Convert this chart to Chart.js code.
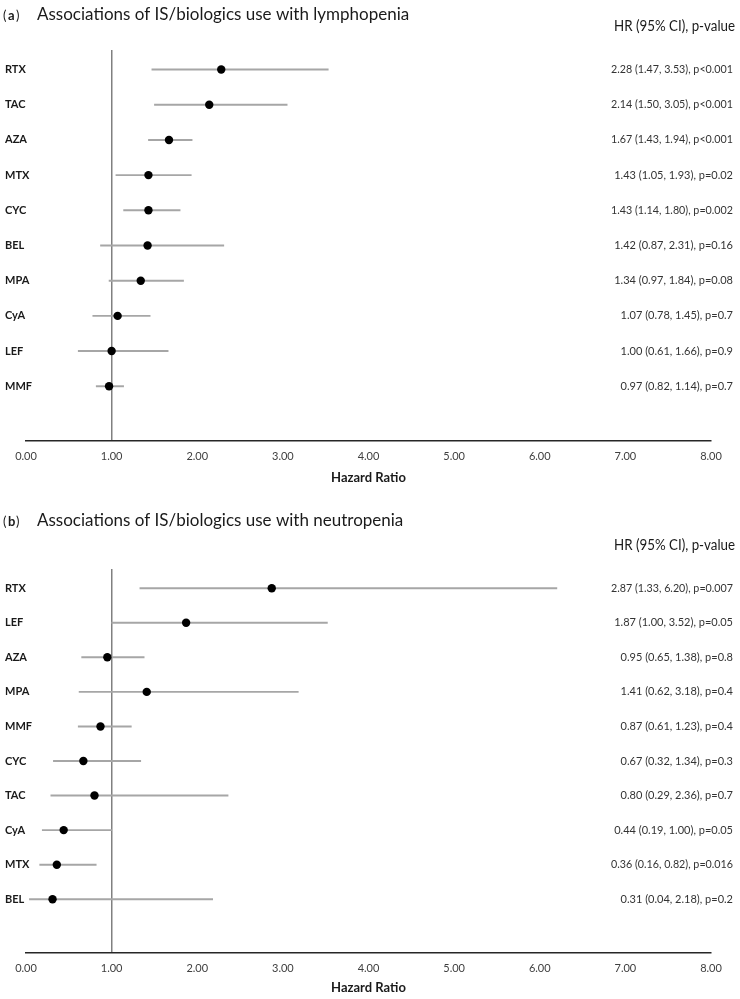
<!DOCTYPE html>
<html>
<head>
<meta charset="utf-8">
<script src="https://cdn.jsdelivr.net/npm/chart.js@4.4.0/dist/chart.umd.min.js"></script>
<style>
  body { margin: 0; background: #fff; }
  .panel { position: relative; width: 740px; }
</style>
</head>
<body>
<div class="panel"><canvas id="chartA" width="740" height="495"></canvas></div>
<div class="panel"><canvas id="chartB" width="740" height="504"></canvas></div>
<script>
// (a) lymphopenia
const lymphDrugs = ["RTX", "TAC", "AZA", "MTX", "CYC", "BEL", "MPA", "CyA", "LEF", "MMF"];
const lymphHR = [2.28, 2.14, 1.67, 1.43, 1.43, 1.42, 1.34, 1.07, 1.00, 0.97];
const lymphLow = [1.47, 1.50, 1.43, 1.05, 1.14, 0.87, 0.97, 0.78, 0.61, 0.82];
const lymphHigh = [3.53, 3.05, 1.94, 1.93, 1.80, 2.31, 1.84, 1.45, 1.66, 1.14];
const lymphP = ["p<0.001", "p<0.001", "p<0.001", "p=0.02", "p=0.002", "p=0.16", "p=0.08", "p=0.7", "p=0.9", "p=0.7"];

// (b) neutropenia
const neutroDrugs = ["RTX", "LEF", "AZA", "MPA", "MMF", "CYC", "TAC", "CyA", "MTX", "BEL"];
const neutroHR = [2.87, 1.87, 0.95, 1.41, 0.87, 0.67, 0.80, 0.44, 0.36, 0.31];
const neutroLow = [1.33, 1.00, 0.65, 0.62, 0.61, 0.32, 0.29, 0.19, 0.16, 0.04];
const neutroHigh = [6.20, 3.52, 1.38, 3.18, 1.23, 1.34, 2.36, 1.00, 0.82, 2.18];
const neutroP = ["p=0.007", "p=0.05", "p=0.8", "p=0.4", "p=0.4", "p=0.3", "p=0.7", "p=0.05", "p=0.016", "p=0.2"];

const xMin = 0;
const xMax = 8;

const FONT = "Lato, 'Open Sans', sans-serif";

function drawForest(canvasId, letter, title, drugs, hr, low, high, pvals, geo) {
  const textPlugin = {
    id: "forestText",
    afterDraw(chart) {
      const ctx = chart.ctx;
      const yScale = chart.scales.y;
      ctx.save();
      ctx.fillStyle = "#1a1a1a";
      ctx.textBaseline = "alphabetic";
      ctx.textAlign = "left";
      ctx.font = "13px " + FONT;
      ctx.fillText("(", 3, geo.titleY);
      ctx.font = "bold 13px " + FONT;
      ctx.fillText(letter, 8, geo.titleY);
      ctx.font = "13px " + FONT;
      ctx.fillText(")", 16, geo.titleY);
      ctx.font = "17px " + FONT;
      ctx.fillText(title, 37, geo.titleY);

      ctx.textAlign = "right";
      ctx.font = "14.5px " + FONT;
      ctx.fillText("HR (95% CI), p-value", 735, geo.headY, 121);

      ctx.fillStyle = "#333333";
      ctx.font = "11px " + FONT;
      ctx.textBaseline = "middle";
      for (let i = 0; i < drugs.length; i++) {
        let s = hr[i].toFixed(2) + " (" + low[i].toFixed(2) + ", " + high[i].toFixed(2) + "), " + pvals[i];
        ctx.fillText(s, 733, yScale.getPixelForValue(i), 122);
      }
      ctx.restore();
    },
  };

  let config = {
    data: {
      datasets: [
        {
          type: "scatter",
          data: drugs.map((d, i) => ({ x: hr[i], y: i })),
          backgroundColor: "#000000",
          borderWidth: 0,
          pointRadius: 4.2,
          clip: false,
          order: 0,
        },
        {
          type: "bar",
          indexAxis: "y",
          data: drugs.map((d, i) => ({ y: i, x: [low[i], high[i]] })),
          backgroundColor: "#a6a6a6",
          barThickness: 1.3,
          borderWidth: 0,
          clip: false,
          order: 1,
        },
      ],
    },
    options: {
      responsive: false,
      animation: false,
      layout: {
        padding: { top: geo.padTop, left: 5, right: 29, bottom: 0 },
      },
      plugins: {
        legend: { display: false },
        tooltip: { enabled: false },
      },
      scales: {
        x: {
          type: "linear",
          min: xMin,
          max: xMax,
          ticks: {
            stepSize: 1,
            padding: 9,
            color: "#404040",
            font: { family: FONT, size: 11 },
            callback: (v) => Number(v).toFixed(2),
          },
          grid: {
            drawTicks: false,
            // only the reference line at HR = 1
            color: (c) => (c.tick && c.tick.value === 1 ? "#808080" : "rgba(0,0,0,0)"),
            lineWidth: 1.5,
          },
          border: { display: true, color: "#262626", width: 1.5 },
          title: {
            display: true,
            text: "Hazard Ratio",
            color: "#1a1a1a",
            font: { family: FONT, size: 13, weight: "bold" },
            padding: { top: 0, bottom: geo.titleBottom },
          },
          afterFit: (s) => {
            s.height = geo.axisHeight;
          },
        },
        y: {
          type: "linear",
          reverse: true,
          min: 0,
          max: drugs.length,
          afterBuildTicks: (s) => {
            s.ticks = drugs.map((d, i) => ({ value: i }));
          },
          ticks: {
            mirror: true,
            padding: -21,
            color: "#1a1a1a",
            font: { family: FONT, size: 11, weight: "bold" },
            callback: (v) => drugs[v],
          },
          grid: { display: false },
          border: { display: false },
          afterFit: (s) => {
            s.width = 21;
          },
        },
      },
    },
    plugins: [textPlugin],
  };

  return new Chart(document.getElementById(canvasId), config);
}

drawForest("chartA", "a", "Associations of IS/biologics use with lymphopenia",
  lymphDrugs, lymphHR, lymphLow, lymphHigh, lymphP,
  { padTop: 50, axisHeight: 54, titleBottom: 9, titleY: 20, headY: 31 });

drawForest("chartB", "b", "Associations of IS/biologics use with neutropenia",
  neutroDrugs, neutroHR, neutroLow, neutroHigh, neutroP,
  { padTop: 74, axisHeight: 46, titleBottom: 3, titleY: 31, headY: 55 });
</script>
</body>
</html>
